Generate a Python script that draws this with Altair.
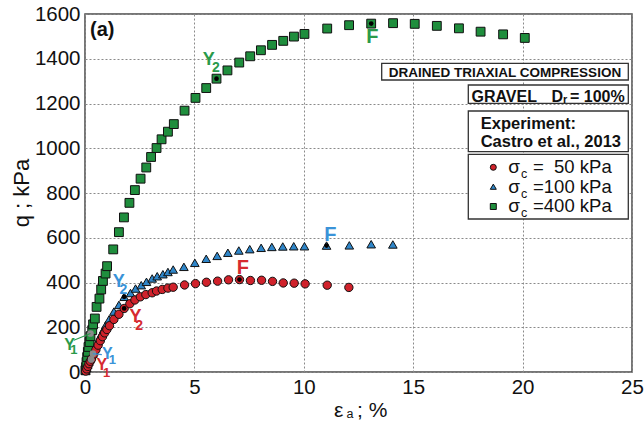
import altair as alt
import pandas as pd

# ---------------- data ----------------
red_strain = [0.03, 0.08, 0.13, 0.18, 0.24, 0.30, 0.40, 0.50, 0.60, 0.70, 0.80, 0.90, 1.00, 1.12,
              1.32, 1.55, 1.79, 2.05, 2.28, 2.53, 2.78, 3.07, 3.27, 3.53, 3.79, 4.03, 4.55, 5.05,
              5.55, 6.06, 6.56, 7.06, 7.56, 8.07, 8.57, 9.06, 9.56, 10.06, 11.07, 12.06]
red_q = [4, 14, 25, 37, 48, 58, 80, 100, 120, 140, 158, 175, 190, 207,
         235, 258, 284, 305, 322, 336, 346, 354, 362, 369, 375, 379, 389, 395,
         401, 406, 412, 413, 409, 410, 405, 398, 397, 394, 388, 378]

blue_strain = [0.03, 0.08, 0.12, 0.17, 0.22, 0.27, 0.36, 0.45, 0.55, 0.65, 0.75, 0.85, 0.95, 1.10,
               1.32, 1.55, 1.79, 2.08, 2.31, 2.57, 2.81, 3.07, 3.30, 3.56, 3.79, 4.03, 4.52, 5.02,
               5.54, 6.04, 6.53, 7.03, 7.53, 8.05, 8.54, 9.04, 9.54, 10.03, 11.04, 12.08, 13.08, 14.07]
blue_q = [5, 18, 32, 45, 58, 70, 82, 105, 128, 150, 170, 190, 210, 235,
          270, 300, 336, 353, 373, 388, 403, 418, 428, 437, 447, 458, 470, 488,
          506, 519, 533, 543, 549, 555, 559, 561, 562, 562, 565, 566, 571, 570]

green_strain = [0.02, 0.05, 0.07, 0.10, 0.13, 0.16, 0.21, 0.25, 0.33, 0.37, 0.45, 0.53, 0.66, 0.74,
                0.82, 0.94, 1.01, 1.29, 1.55, 1.78, 2.03, 2.28, 2.54, 2.80, 3.02, 3.27, 3.50, 3.79,
                4.06, 4.55, 5.05, 5.54, 6.01, 6.51, 7.05, 7.55, 8.04, 8.55, 9.06, 9.55, 10.03, 11.07,
                12.07, 13.08, 14.08, 15.07, 16.08, 17.09, 18.08, 19.11, 20.10]
green_q = [8, 22, 45, 67, 90, 112, 134, 160, 187, 213, 239, 291, 328, 369,
           407, 440, 473, 548, 625, 691, 756, 813, 864, 914, 961, 1001, 1040, 1074,
           1108, 1168, 1225, 1269, 1311, 1348, 1383, 1411, 1438, 1462, 1480, 1499, 1511, 1535,
           1550, 1557, 1559, 1556, 1547, 1536, 1521, 1509, 1493]

# characteristic points (Y2 and F: black dots, Y1: grey dots)
black_strain = [6.01, 13.08, 1.79, 11.04, 1.79, 7.06]
black_q = [1311, 1557, 336, 565, 284, 413]
grey_strain = [0.25, 0.36, 0.28]
grey_q = [172, 82, 56]

# point labels
lab_text = ["Y", "2", "F", "Y", "2", "F", "Y", "2", "F", "Y", "1", "Y", "1", "Y", "1"]
lab_strain = [5.38, 5.80, 12.85, 1.27, 1.58, 10.93, 2.03, 2.30, 6.94, 0.78, 1.08, 0.52, 0.82, -0.95, -0.67]
lab_q = [1372, 1340, 1469, 380, 350, 585, 224, 188, 436, 60, 36, 8, -21, 97, 80]
lab_size = [18, 14, 20, 18, 14, 20, 18, 14, 20, 16, 13, 16, 13, 16, 13]
lab_series = ["g", "g", "g", "b", "b", "b", "r", "r", "r", "b", "b", "r", "r", "g", "g"]

# leader lines for Y1 labels (green, blue)
lead_strain = [-0.51, 0.36]
lead_strain2 = [0.25, 0.77]
lead_q = [142, 82]
lead_q2 = [172, 78]
lead_series = ["g", "b"]

x_ticks = [0, 5, 10, 15, 20, 25]
y_ticks = [0, 200, 400, 600, 800, 1000, 1200, 1400, 1600]

NB = "\u00a0"
legend_labels = ["=" + NB + NB + "50 kPa", "=100 kPa", "=400 kPa"]

# ---------------- style ----------------
FONT = "Liberation Sans"
RED, BLUE, GREEN = "#d0222b", "#2f86c9", "#1f8e3d"
LRED, LBLUE, LGREEN = "#d62a30", "#3a93d8", "#2a9a4a"
col_map = {"r": LRED, "b": LBLUE, "g": LGREEN}

xs = alt.Scale(domain=[0, 25], nice=False, zero=False)
ys = alt.Scale(domain=[0, 1600], nice=False, zero=False)

X = alt.X("strain:Q", scale=xs,
          axis=alt.Axis(values=x_ticks, title=None, grid=True, gridDash=[2, 2], gridColor="#8a8a8a",
                        gridWidth=1, domain=False, ticks=False, labelFont=FONT, labelFontSize=20.5,
                        labelColor="#111", labelPadding=5, labelFlush=False, labelOverlap=False,
                        format="d"))
Y = alt.Y("q:Q", scale=ys,
          axis=alt.Axis(values=y_ticks, title=None, grid=True, gridDash=[2, 2], gridColor="#8a8a8a",
                        gridWidth=1, domain=False, ticks=False, labelFont=FONT, labelFontSize=20.5,
                        labelColor="#111", labelPadding=5, labelFlush=False, labelOverlap=False,
                        format="d"))

one = pd.DataFrame({"a": [0]})
L, T = 85, 14  # plot origin on the page


def txt(s, x, y, size, color="#111", weight="normal", align="left", angle=0, baseline="alphabetic"):
    return alt.Chart(one).mark_text(text=s, align=align, baseline=baseline, fontSize=size,
                                    fontWeight=weight, color=color, font=FONT, angle=angle).encode(
        x=alt.value(x - L), y=alt.value(y - T))


def box(x1, y1, x2, y2):
    return alt.Chart(one).mark_rect(fill="white", stroke="#333", strokeWidth=1.3).encode(
        x=alt.value(x1 - L), x2=alt.value(x2 - L), y=alt.value(y1 - T), y2=alt.value(y2 - T))


def sym(shape, color, x, y, size):
    return alt.Chart(one).mark_point(shape=shape, filled=True, fill=color, stroke="#111",
                                     strokeWidth=1, size=size, opacity=1).encode(
        x=alt.value(x - L), y=alt.value(y - T))


red_df = pd.DataFrame({"strain": red_strain, "q": red_q})
blue_df = pd.DataFrame({"strain": blue_strain, "q": blue_q})
green_df = pd.DataFrame({"strain": green_strain, "q": green_q})
black_df = pd.DataFrame({"strain": black_strain, "q": black_q})
grey_df = pd.DataFrame({"strain": grey_strain, "q": grey_q})
lab_df = pd.DataFrame({"strain": lab_strain, "q": lab_q, "t": lab_text, "fs": lab_size,
                       "c": [col_map[s] for s in lab_series]})
lead_df = pd.DataFrame({"strain": lead_strain, "strain2": lead_strain2, "q": lead_q, "q2": lead_q2,
                        "c": [col_map[s] for s in lead_series]})

green_l = alt.Chart(green_df).mark_point(shape="square", filled=True, fill=GREEN, stroke="#111",
                                         strokeWidth=1, size=78, opacity=1).encode(x=X, y=Y)
blue_l = alt.Chart(blue_df).mark_point(shape="triangle-up", filled=True, fill=BLUE, stroke="#111",
                                       strokeWidth=1, size=74, opacity=1).encode(x=X, y=Y)
red_l = alt.Chart(red_df).mark_point(shape="circle", filled=True, fill=RED, stroke="#111",
                                     strokeWidth=1, size=70, opacity=1).encode(x=X, y=Y)
black_l = alt.Chart(black_df).mark_circle(size=22, color="#000", opacity=1).encode(x=X, y=Y)
grey_l = alt.Chart(grey_df).mark_circle(size=45, color="#8a8a8a", opacity=1).encode(x=X, y=Y)
lead_l = alt.Chart(lead_df).mark_rule(strokeWidth=1.2).encode(
    x=X, x2="strain2:Q", y=Y, y2="q2:Q", color=alt.Color("c:N", scale=None))
lab_l = alt.Chart(lab_df).mark_text(align="left", baseline="alphabetic", font=FONT,
                                    fontWeight="bold").encode(
    x=X, y=Y, text="t:N", size=alt.Size("fs:Q", scale=None), color=alt.Color("c:N", scale=None))

layers = [
    green_l, blue_l, red_l, black_l, grey_l, lead_l, lab_l,
    # annotation boxes
    box(381.7, 63.3, 628.3, 80),
    txt("DRAINED TRIAXIAL COMPRESSION", 505, 76.5, 13.5, weight="bold", align="center"),
    box(468.3, 85, 628.3, 103.3),
    txt("GRAVEL", 471.5, 101.5, 16, weight="bold"),
    txt("D", 551.5, 101.5, 16, weight="bold"),
    txt("r", 563, 102.5, 11, weight="bold"),
    txt("= 100%", 570, 101.5, 16, weight="bold"),
    box(468.3, 111, 628.3, 151.7),
    txt("Experiment:", 480.7, 129, 16.5, weight="bold"),
    txt("Castro et al., 2013", 480.7, 146.5, 16.5, weight="bold"),
    box(468.3, 154.3, 628.3, 219),
    sym("circle", RED, 493.3, 167.3, 36),
    sym("triangle-up", BLUE, 493.3, 186.7, 36),
    sym("square", GREEN, 493.3, 206.5, 36),
]
for i, yb in enumerate([173.3, 192.7, 211.7]):
    layers.append(txt("σ", 508.3, yb, 19))
    layers.append(txt("c", 521, yb + 5, 12.5))
    layers.append(txt(legend_labels[i], 533, yb, 18.5))

layers += [
    txt("(a)", 90, 35.5, 20, weight="bold"),
    txt("q ; kPa", 22, 193, 22, angle=270, align="center", baseline="middle"),
    txt("ε", 334, 416.5, 21),
    txt("a", 346.5, 418, 12.5),
    txt("; %", 357, 416.5, 21),
]

chart = alt.layer(*layers).properties(
    width=547, height=358,
    autosize="none",
    padding={"left": L, "top": T, "right": 12, "bottom": 49},
).configure_view(stroke="#4a4a4a", strokeWidth=1.5)

chart.save("out.html", embed_options={"renderer": "svg", "actions": False})
